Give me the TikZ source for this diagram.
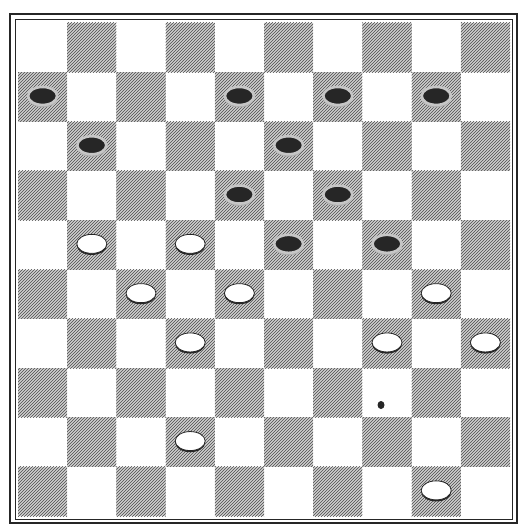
\documentclass[tikz,border=0pt]{standalone}
\usepackage{tikz}
\usetikzlibrary{patterns,shapes.geometric,shadows}
\definecolor{ink}{RGB}{38,38,38}
\tikzset{
  hatch/.style={pattern=north east lines,pattern color=black!70},
  bpc/.style={ellipse,fill=ink,draw=gray!45,line width=2.6pt,minimum width=29pt,minimum height=18pt,inner sep=0pt,
    drop shadow={shadow xshift=0pt,shadow yshift=-2.5pt,fill=gray!65,opacity=1}},
  wpc/.style={ellipse,fill=white,draw=ink,line width=0.8pt,minimum width=30pt,minimum height=19pt,inner sep=0pt,
    drop shadow={shadow xshift=0pt,shadow yshift=-1.6pt,fill=ink,opacity=1}},
  blot/.style={ellipse,fill=ink,minimum width=7pt,minimum height=8pt,inner sep=0pt}
}
\begin{document}
\begin{tikzpicture}[x=1pt,y=-1pt]
  \useasboundingbox (0,0) rectangle (523,526);
  % board
  \foreach \r in {0,...,9} {
    \foreach \c in {0,...,9} {
      \pgfmathtruncatemacro{\p}{mod(\r+\c,2)}
      \ifnum\p=1
        \fill[gray!38] ({18+49.2*\c},{23+49.3*\r}) rectangle ++(49.2,49.3);
        \fill[hatch] ({18+49.2*\c},{23+49.3*\r}) rectangle ++(49.2,49.3);
      \fi } }
  \draw[ink,line width=1.8pt] (10,14) rectangle (517,523);
  \draw[ink,line width=1pt] (15,20) rectangle (512,519);
  % black men
  \foreach \c/\r/\n in {0/1/b1,4/1/b2,6/1/b3,8/1/b4,1/2/b5,5/2/b6,4/3/b7,6/3/b8,5/4/b9,7/4/b10}
    \node[bpc] (\n) at ({18+49.2*(\c+0.5)},{22+49.3*(\r+0.5)}) {};
  % white men
  \foreach \c/\r/\n in {1/4/w1,3/4/w2,2/5/w3,4/5/w4,8/5/w5,3/6/w6,7/6/w7,9/6/w8,3/8/w9,8/9/w10}
    \node[wpc] (\n) at ({18+49.2*(\c+0.5)},{22+49.3*(\r+0.5)}) {};
  \node[blot] (m) at (381,405) {};
\end{tikzpicture}
\end{document}
